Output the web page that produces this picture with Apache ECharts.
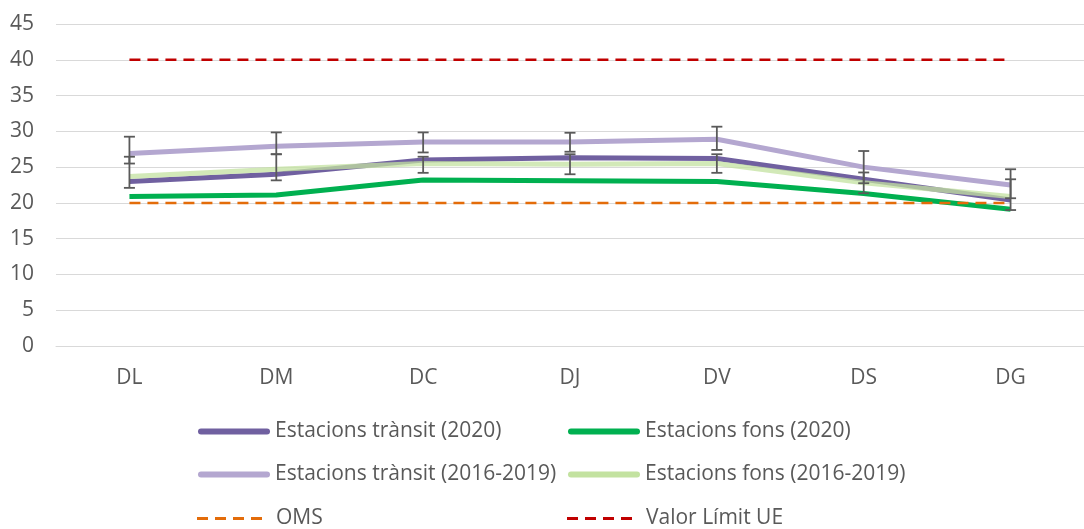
<!DOCTYPE html>
<html>
<head>
<meta charset="utf-8">
<script src="https://cdn.jsdelivr.net/npm/echarts@6/dist/echarts.min.js"></script>
<style>
  html, body { margin: 0; padding: 0; background: #ffffff; }
  #chart { width: 1084px; height: 529px; }
</style>
</head>
<body>
<div id="chart"></div>
<script>
// Days of the week
const days = ['DL', 'DM', 'DC', 'DJ', 'DV', 'DS', 'DG'];

// Mean concentrations per day
const transit2020 = [23.0, 24.0, 26.0, 26.3, 26.2, 23.3, 20.4];
const fons2020 = [20.9, 21.1, 23.2, 23.1, 23.0, 21.3, 19.1];
const transit1619 = [26.9, 27.9, 28.5, 28.5, 28.9, 25.0, 22.5];
const fons1619 = [23.7, 24.7, 25.5, 25.4, 25.5, 22.8, 20.9];

// Reference levels
const oms = [20, 20, 20, 20, 20, 20, 20];
const limitUE = [40, 40, 40, 40, 40, 40, 40];

// Error ranges for the 2016-2019 series
const transitErrLow = [25.5, 26.8, 27.05, 27.15, 27.4, 22.75, 20.65];
const transitErrHigh = [29.25, 29.85, 29.85, 29.8, 30.65, 27.25, 24.7];
const fonsErrLow = [22.1, 23.15, 24.2, 24.0, 24.2, 21.35, 19.0];
const fonsErrHigh = [26.45, 26.8, 26.45, 26.8, 26.8, 24.25, 23.3];

// Y axis ticks
const yMin = 0, yMax = 45, yStep = 5;

const textColor = '#595959';
const font = 'Open Sans';
const fontSize = 21;

// Legend glyphs: a capsule for solid lines, four dashes for dashed ones
const solidIcon = 'path://M3,0 H69 A3,3 0 0 1 69,6 H3 A3,3 0 0 1 3,0 Z';
const dashIcon = 'path://M0,0h11v3h-11z M18,0h11v3h-11z M36,0h11v3h-11z M54,0h11v3h-11z';

function errorSeries(lows, highs) {
  return {
    type: 'custom',
    z: 10,
    silent: true,
    data: days.map((d, i) => [i, lows[i], highs[i]]),
    renderItem: function (params, api) {
      const lo = api.coord([api.value(0), api.value(1)]);
      const hi = api.coord([api.value(0), api.value(2)]);
      const hw = 5.5;
      const style = { stroke: '#5a5a5a', lineWidth: 1.8 };
      return {
        type: 'group',
        children: [
          { type: 'line', shape: { x1: lo[0], y1: lo[1], x2: hi[0], y2: hi[1] }, style: style },
          { type: 'line', shape: { x1: lo[0] - hw, y1: lo[1], x2: lo[0] + hw, y2: lo[1] }, style: style },
          { type: 'line', shape: { x1: hi[0] - hw, y1: hi[1], x2: hi[0] + hw, y2: hi[1] }, style: style }
        ]
      };
    }
  };
}

function lineSeries(name, data, color, width, opts) {
  return Object.assign({
    name: name,
    type: 'line',
    data: data,
    symbol: 'none',
    smooth: false,
    silent: true,
    lineStyle: { color: color, width: width },
    itemStyle: { color: color }
  }, opts || {});
}

function legendItem(name, left, centerY, dashed) {
  return {
    data: [{ name: name, icon: dashed ? dashIcon : solidIcon }],
    left: left,
    top: centerY - 12,
    itemWidth: dashed ? 65 : 72,
    itemHeight: dashed ? 3 : 6,
    padding: 0,
    selectedMode: false,
    textStyle: {
      color: textColor, fontSize: fontSize, fontFamily: font,
      padding: dashed ? [0, 0, 0, 9] : [0, 0, 0, 0]
    }
  };
}

const chart = echarts.init(document.getElementById('chart'), null, { renderer: 'canvas' });

chart.setOption({
  animation: false,
  backgroundColor: '#ffffff',
  grid: { left: 56, top: 24, width: 1038, height: 322 },
  xAxis: {
    type: 'category',
    data: days,
    boundaryGap: true,
    axisLine: { show: true, lineStyle: { color: '#d9d9d9', width: 1 } },
    axisTick: { show: false },
    axisLabel: { color: textColor, fontSize: fontSize, fontFamily: font, margin: 22 }
  },
  yAxis: {
    type: 'value',
    min: yMin,
    max: yMax,
    interval: yStep,
    axisLine: { show: false },
    axisTick: { show: false },
    splitLine: { lineStyle: { color: '#d9d9d9', width: 1 } },
    axisLabel: { color: textColor, fontSize: fontSize, fontFamily: font, margin: 22 }
  },
  legend: [
    legendItem('Estacions trànsit (2020)', 198, 433, false),
    legendItem('Estacions fons (2020)', 568, 433, false),
    legendItem('Estacions trànsit (2016-2019)', 198, 476, false),
    legendItem('Estacions fons (2016-2019)', 568, 476, false),
    legendItem('OMS', 197, 520, true),
    legendItem('Valor Límit UE', 567, 520, true)
  ],
  series: [
    lineSeries('Estacions trànsit (2020)', transit2020, '#7060a0', 5, { z: 3 }),
    lineSeries('Estacions fons (2020)', fons2020, '#00b050', 5, { z: 3 }),
    lineSeries('Estacions trànsit (2016-2019)', transit1619, '#b4a7d0', 5, { z: 4 }),
    lineSeries('Estacions fons (2016-2019)', fons1619, '#c3e2a0', 5, { z: 4, lineStyle: { color: '#c3e2a0', width: 5, opacity: 0.75 } }),
    lineSeries('OMS', oms, '#e36c0a', 2.5, { z: 5, lineStyle: { color: '#e36c0a', width: 2.5, type: [11, 7] } }),
    lineSeries('Valor Límit UE', limitUE, '#c00000', 2.5, { z: 5, lineStyle: { color: '#c00000', width: 2.5, type: [11, 7] } }),
    errorSeries(transitErrLow, transitErrHigh),
    errorSeries(fonsErrLow, fonsErrHigh)
  ]
});
</script>
</body>
</html>
